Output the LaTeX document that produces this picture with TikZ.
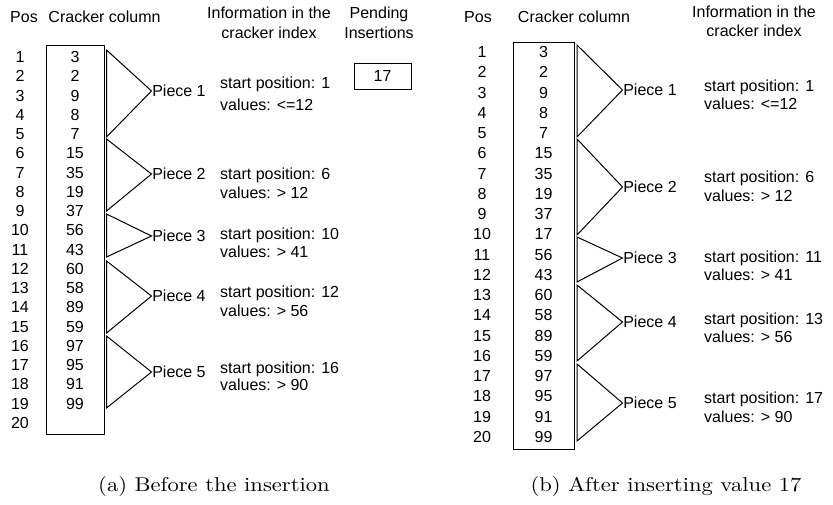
\documentclass[tikz,border=0pt]{standalone}
\usepackage{fontspec}
\usepackage{graphicx}
\setsansfont{Liberation Sans}
\newfontfamily\capfont{lmroman10-regular.otf}
\begin{document}
\begin{tikzpicture}[x=1pt,y=-1pt,
  txt/.style={font=\sffamily\fontsize{16}{19}\selectfont, inner sep=0pt},
  cell/.style={txt, anchor=base},
  info/.style={txt, anchor=base west},
  plabel/.style={txt, anchor=west, inner sep=0.6pt},
  col/.style={draw, line width=1pt, inner sep=0pt},
  piece/.style={draw, line width=1pt, line join=miter},
  subcaption/.style={font=\capfont\fontsize{20}{24}\selectfont, anchor=base, inner sep=0pt}]
\path[use as bounding box] (0,0) rectangle (833,504);

% ---------- (a) before the insertion ----------
\node[cell] (aposh) at (24,22.5) {Pos};
\node[cell] (acolh) at (104.5,22.5) {Cracker column};
\node[cell] (ainfh1) at (269,18.5) {Information in the};
\node[cell] (ainfh2) at (269,38.5) {cracker index};
\node[cell] (pendh1) at (379,18.5) {Pending};
\node[cell] (pendh2) at (379,38.5) {Insertions};
\node[col, minimum width=57pt, minimum height=26pt] (pend) at (382.5,76) {};
\node[cell] (pendv) at (382.5,81.5) {17};

\node[col, minimum width=58pt, minimum height=389pt] (acol) at (75,239.5) {};
\foreach \i in {1,...,20}
  \node[cell] (apos\i) at (20,{57+19.25*(\i-1)+5.5}) {\i};
\foreach \v [count=\i] in {3,2,9,8,7,15,35,19,37,56,43,60,58,89,59,97,95,91,99}
  \node[cell] (aval\i) at (75,{57+19.25*(\i-1)+5.5}) {\v};

\foreach \n/\t/\a/\b in {1/50/91/137, 2/139/174/211, 3/214/236/257, 4/261/296/333, 5/336/372/408} {
  \node[plabel] (apc\n) at (151.5,\a) {Piece \n};
  \draw[piece] (106.5,\t) -- (apc\n.west) -- (106.5,\b) -- cycle;
}
\foreach \n/\s/\w/\p/\q in {1/1/{<=12}/88/110, 2/6/{> 12}/179/198, 3/10/{> 41}/239/257, 4/12/{> 56}/297/316, 5/16/{> 90}/373/390} {
  \node[info] (ast\n) at (220,\p) {start position: \s};
  \node[info] (avl\n) at (220,\q) {values: \w};
}

% ---------- (b) after inserting value 17 ----------
\node[cell] (bposh) at (478,22.5) {Pos};
\node[cell] (bcolh) at (574,22.5) {Cracker column};
\node[cell] (binfh1) at (754,17.5) {Information in the};
\node[cell] (binfh2) at (754,36.5) {cracker index};

\node[col, minimum width=61pt, minimum height=407pt] (bcol) at (543.5,245.5) {};
\foreach \i in {1,...,20}
  \node[cell] (bpos\i) at (482,{52+20.26*(\i-1)+5.5}) {\i};
\foreach \v [count=\i] in {3,2,9,8,7,15,35,19,37,17,56,43,60,58,89,59,97,95,91,99}
  \node[cell] (bval\i) at (543.5,{52+20.26*(\i-1)+5.5}) {\v};

\foreach \n/\t/\a/\b in {1/45/90/137, 2/139/187/235, 3/237/258/282, 4/285/322/361, 5/364/403/441} {
  \node[plabel] (bpc\n) at (622.5,\a) {Piece \n};
  \draw[piece] (577,\t) -- (bpc\n.west) -- (577,\b) -- cycle;
}
\foreach \n/\s/\w/\p/\q in {1/1/{<=12}/91/109, 2/6/{> 12}/182/201, 3/11/{> 41}/262/280, 4/13/{> 56}/324/342, 5/17/{> 90}/403/422} {
  \node[info] (bst\n) at (704,\p) {start position: \s};
  \node[info] (bvl\n) at (704,\q) {values: \w};
}

% ---------- captions (slightly widened serif) ----------
\node[subcaption] (capa) at (214,491) {\scalebox{1.13}[1]{(a) Before the insertion}};
\node[subcaption] (capb) at (666,491) {\scalebox{1.13}[1]{(b) After inserting value 17}};
\end{tikzpicture}
\end{document}
